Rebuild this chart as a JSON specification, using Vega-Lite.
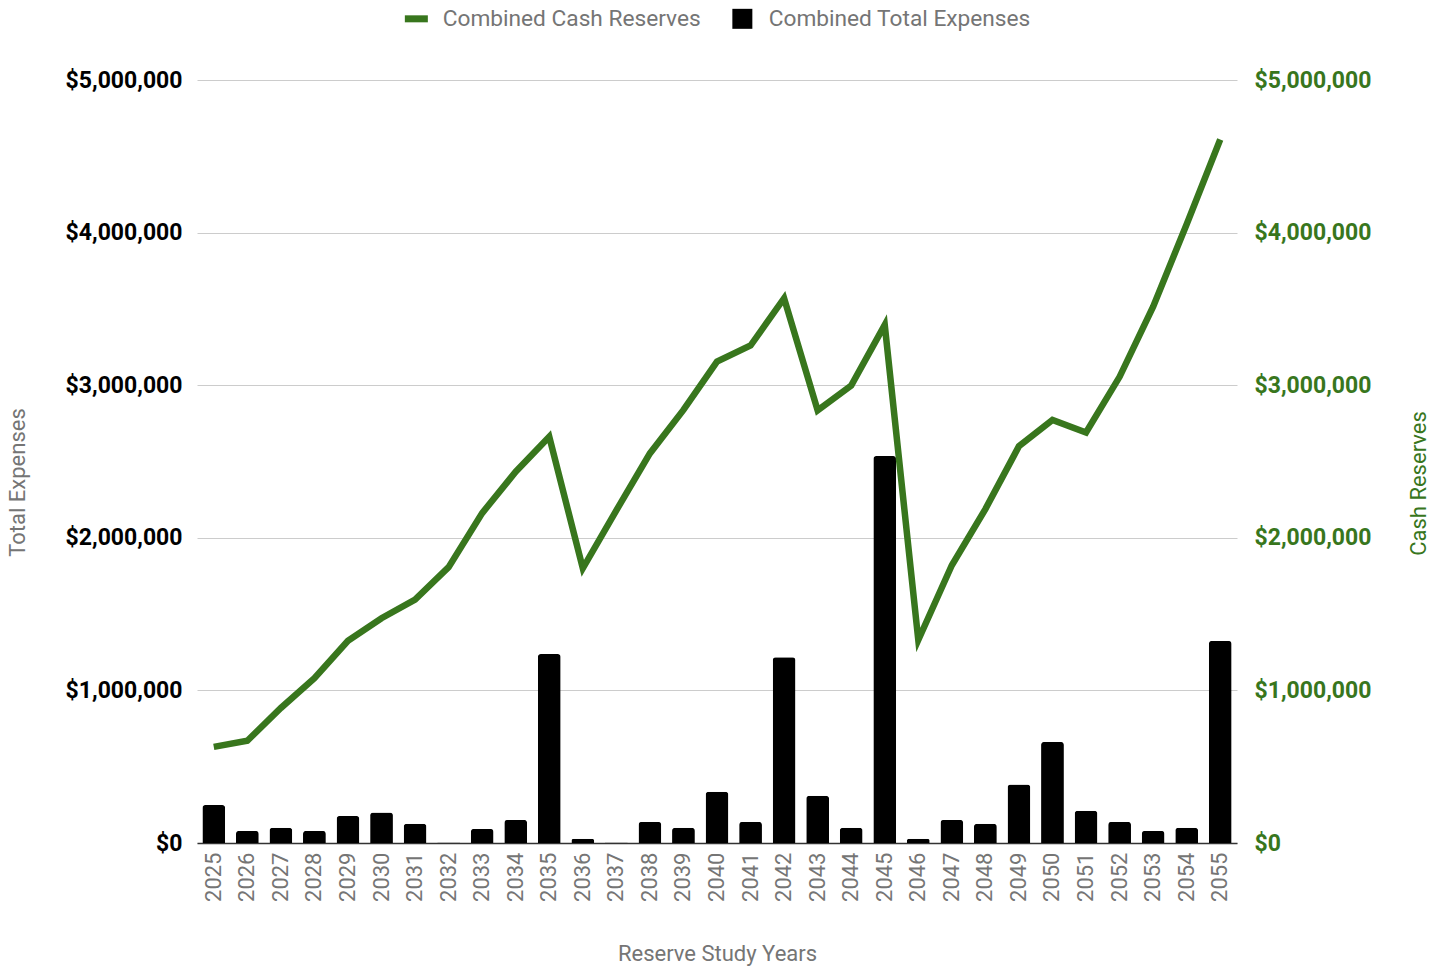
{
  "$schema": "https://vega.github.io/schema/vega-lite/v6.json",
  "width": 1040,
  "height": 763,
  "autosize": {"type": "none"},
  "padding": {"left": 197, "top": 80, "right": 206, "bottom": 123},
  "background": "white",
  "config": {
    "font": "Roboto",
    "view": {"stroke": null},
    "axis": {"labelFont": "Roboto", "titleFont": "Roboto"},
    "legend": {"labelFont": "Roboto"}
  },
  "data": {
    "values": [
      {"year": "2025", "expenses": 249000, "reserves": 630000},
      {"year": "2026", "expenses": 79000, "reserves": 670000},
      {"year": "2027", "expenses": 100000, "reserves": 885000},
      {"year": "2028", "expenses": 79000, "reserves": 1080000},
      {"year": "2029", "expenses": 177000, "reserves": 1325000},
      {"year": "2030", "expenses": 200000, "reserves": 1473000},
      {"year": "2031", "expenses": 126000, "reserves": 1595000},
      {"year": "2032", "expenses": 3000, "reserves": 1808000},
      {"year": "2033", "expenses": 92000, "reserves": 2162000},
      {"year": "2034", "expenses": 151000, "reserves": 2433000},
      {"year": "2035", "expenses": 1238000, "reserves": 2662000},
      {"year": "2036", "expenses": 28000, "reserves": 1800000},
      {"year": "2037", "expenses": 3000, "reserves": 2180000},
      {"year": "2038", "expenses": 138000, "reserves": 2553000},
      {"year": "2039", "expenses": 100000, "reserves": 2838000},
      {"year": "2040", "expenses": 336000, "reserves": 3155000},
      {"year": "2041", "expenses": 138000, "reserves": 3260000},
      {"year": "2042", "expenses": 1218000, "reserves": 3570000},
      {"year": "2043", "expenses": 310000, "reserves": 2835000},
      {"year": "2044", "expenses": 100000, "reserves": 2998000},
      {"year": "2045", "expenses": 2536000, "reserves": 3395000},
      {"year": "2046", "expenses": 28000, "reserves": 1330000},
      {"year": "2047", "expenses": 151000, "reserves": 1820000},
      {"year": "2048", "expenses": 126000, "reserves": 2188000},
      {"year": "2049", "expenses": 384000, "reserves": 2600000},
      {"year": "2050", "expenses": 662000, "reserves": 2773000},
      {"year": "2051", "expenses": 212000, "reserves": 2690000},
      {"year": "2052", "expenses": 138000, "reserves": 3055000},
      {"year": "2053", "expenses": 79000, "reserves": 3515000},
      {"year": "2054", "expenses": 100000, "reserves": 4055000},
      {"year": "2055", "expenses": 1324000, "reserves": 4610000}
    ]
  },
  "encoding": {
    "x": {
      "field": "year",
      "type": "ordinal",
      "scale": {"paddingInner": 0.32, "paddingOuter": 0.16},
      "axis": {
        "title": "Reserve Study Years",
        "titleFontSize": 22,
        "titleFontWeight": "normal",
        "titleColor": "#757575",
        "titlePadding": 42,
        "labelAngle": -90,
        "labelFontSize": 22,
        "labelColor": "#757575",
        "labelPadding": 9,
        "ticks": false,
        "grid": false,
        "domainColor": "#333333",
        "domainWidth": 1.5
      }
    }
  },
  "layer": [
    {
      "mark": {"type": "bar", "cornerRadiusTopLeft": 3, "cornerRadiusTopRight": 3},
      "encoding": {
        "y": {
          "field": "expenses",
          "type": "quantitative",
          "scale": {"domain": [0, 5000000], "nice": false},
          "axis": {
            "orient": "left",
            "values": [0, 1000000, 2000000, 3000000, 4000000, 5000000],
            "format": "$,.0f",
            "title": "Total Expenses",
            "titleFontSize": 22,
            "titleFontWeight": "normal",
            "titleColor": "#757575",
            "titleAngle": -90,
            "titleAlign": "center",
            "titleBaseline": "alphabetic",
            "titleX": -173,
            "titleY": 402,
            "labelFontSize": 23,
            "labelFontWeight": "bold",
            "labelColor": "#000000",
            "labelPadding": 15,
            "ticks": false,
            "domain": false,
            "grid": true,
            "gridColor": "#cccccc",
            "gridWidth": 1
          }
        },
        "color": {
          "datum": "Combined Total Expenses",
          "type": "nominal",
          "scale": {
            "domain": ["Combined Cash Reserves", "Combined Total Expenses"],
            "range": ["#38761d", "#000000"]
          },
          "legend": {
            "title": null,
            "orient": "none",
            "legendX": 208,
            "legendY": -73,
            "direction": "horizontal",
            "labelFontSize": 22.7,
            "labelColor": "#757575",
            "labelLimit": 0,
            "symbolSize": 400,
            "labelOffset": 15,
            "columnPadding": 30,
            "encode": {
              "symbols": {
                "update": {
                  "shape": {"signal": "datum.value === 'Combined Cash Reserves' ? 'M-1.15,-0.35H1.15V0.35H-1.15Z' : 'M-1,-1H1V1H-1Z'"},
                  "size": {"value": 400},
                  "fill": {"signal": "datum.value === 'Combined Cash Reserves' ? '#38761d' : '#000000'"},
                  "stroke": {"value": "transparent"},
                  "strokeWidth": {"value": 0},
                  "opacity": {"value": 1}
                }
              }
            }
          }
        }
      }
    },
    {
      "mark": {"type": "line", "strokeWidth": 6.5, "strokeJoin": "miter"},
      "encoding": {
        "y": {
          "field": "reserves",
          "type": "quantitative",
          "scale": {"domain": [0, 5000000], "nice": false},
          "axis": {
            "orient": "right",
            "values": [0, 1000000, 2000000, 3000000, 4000000, 5000000],
            "format": "$,.0f",
            "title": "Cash Reserves",
            "titleFontSize": 22,
            "titleFontWeight": "normal",
            "titleColor": "#38761d",
            "titleAngle": -90,
            "titleAlign": "center",
            "titleBaseline": "alphabetic",
            "titleX": 188,
            "titleY": 403,
            "labelFontSize": 23,
            "labelFontWeight": "bold",
            "labelColor": "#38761d",
            "labelPadding": 17,
            "ticks": false,
            "domain": false,
            "grid": false
          }
        },
        "color": {"datum": "Combined Cash Reserves", "type": "nominal"}
      }
    }
  ],
  "resolve": {"scale": {"y": "independent"}}
}
